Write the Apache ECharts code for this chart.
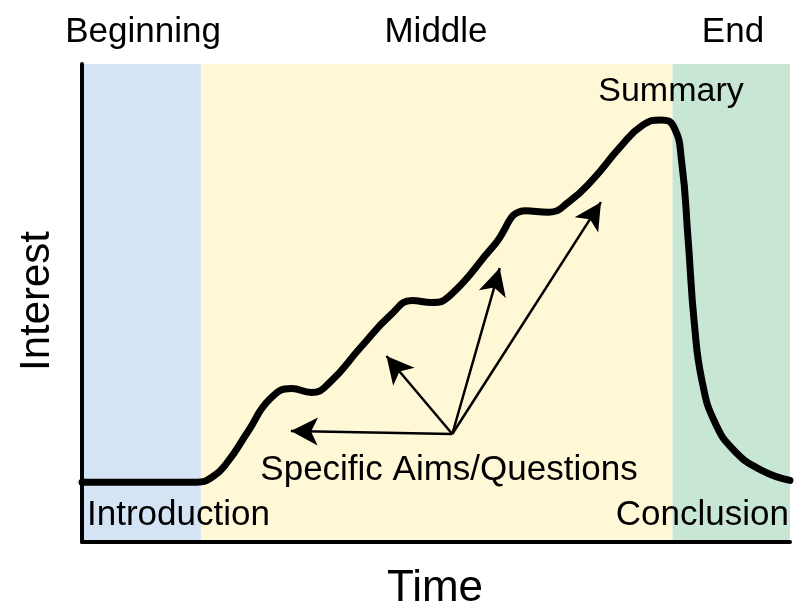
<!DOCTYPE html>
<html>
<head>
<meta charset="utf-8">
<script src="https://cdn.jsdelivr.net/npm/echarts@6/dist/echarts.min.js"></script>
<style>
    html, body { margin: 0; padding: 0; background: #fff; }
    #chart { width: 797px; height: 608px; }
</style>
</head>
<body>
<div id="chart"></div>
<script>
// interest curve over time (x: 0-100, y: 0-100)
const timeX = [0, 16.2, 18.6, 20.6, 23.4, 26.6, 29.6, 32.4, 35.0, 39.4, 43.6, 46.6, 49.4, 52.0, 58.1, 62.7, 65.9, 68.8, 72.2, 76.0, 79.2, 81.8, 83.6, 84.7, 85.6, 86.5, 87.6, 89.4, 92.2, 96.0, 100];
const interest = [12.5, 12.5, 13.8, 16.8, 23.0, 30.0, 32.1, 31.3, 33.4, 40.8, 47.5, 50.5, 50.1, 51.6, 61.9, 69.3, 69.0, 71.2, 75.9, 82.6, 87.2, 88.3, 86.8, 79.5, 63.5, 45.5, 33.5, 25.0, 19.0, 15.0, 12.9];

// sections
const sectionNames = ['Beginning', 'Middle', 'End'];
const sectionStart = [0, 16.8, 83.4];
const sectionEnd = [16.8, 83.4, 100];
const sectionColors = ['#d5e4f5', '#fff8d7', '#c8e6d4'];

// specific aims arrows: one origin, four tips
const arrowFrom = [52.3, 22.6];
const arrowTo = [[29.5, 23.2], [43.0, 38.9], [59.0, 57.3], [73.3, 71.1]];

const font = '"Liberation Sans", Arial, Helvetica, sans-serif';

let myChart = echarts.init(document.getElementById('chart'));

let grid = { left: 82, right: 7, top: 64, bottom: 66 };

let xAxis = {
    type: 'value', min: 0, max: 100, z: 10,
    axisLine: { lineStyle: { color: '#000', width: 4 } },
    axisTick: { show: false }, axisLabel: { show: false }, splitLine: { show: false }
};
let yAxis = {
    type: 'value', min: 0, max: 100, z: 10,
    axisLine: { show: true, lineStyle: { color: '#000', width: 4 } },
    axisTick: { show: false }, axisLabel: { show: false }, splitLine: { show: false }
};

let curve = timeX.map((x, i) => [x, interest[i]]);

let series = [
    {
        // background bands
        type: 'line', data: [], z: 1,
        markArea: {
            silent: true,
            data: sectionStart.map((s, i) => [
                { xAxis: s, itemStyle: { color: sectionColors[i] } },
                { xAxis: sectionEnd[i] }
            ])
        }
    },
    {
        name: 'Interest', type: 'line', data: curve, z: 3,
        smooth: 0.5, showSymbol: false,
        lineStyle: { color: '#000', width: 7, cap: 'round', join: 'round' }
    },
    {
        // arrows
        type: 'line', data: [], z: 4,
        markLine: {
            silent: true, animation: false,
            symbol: ['none', 'arrow'], symbolSize: [21, 27],
            label: { show: false },
            lineStyle: { color: '#000', width: 2.5, type: 'solid' },
            data: arrowTo.map(t => [{ coord: arrowFrom }, { coord: t }])
        }
    }
];

let txt = (text, x, y, size, align, rotation) => ({
    type: 'text', x: x, y: y, z: 20, rotation: rotation || 0,
    style: { text: text, fill: '#000', font: size + 'px ' + font, align: align || 'center', verticalAlign: 'middle' }
});

let graphic = [
    txt(sectionNames[0], 143, 32, 35),
    txt(sectionNames[1], 436, 32, 35),
    txt(sectionNames[2], 733, 32, 35),
    txt('Summary', 671, 92, 34),
    txt('Specific Aims/Questions', 449, 470, 35),
    txt('Introduction', 87, 515, 35, 'left'),
    txt('Conclusion', 789, 515, 35, 'right'),
    txt('Interest', 37, 301, 42, 'center', Math.PI / 2),
    txt('Time', 435, 589, 44)
];

const option = { animation: false, grid, xAxis, yAxis, series, graphic };
option && myChart.setOption(option);
</script>
</body>
</html>
